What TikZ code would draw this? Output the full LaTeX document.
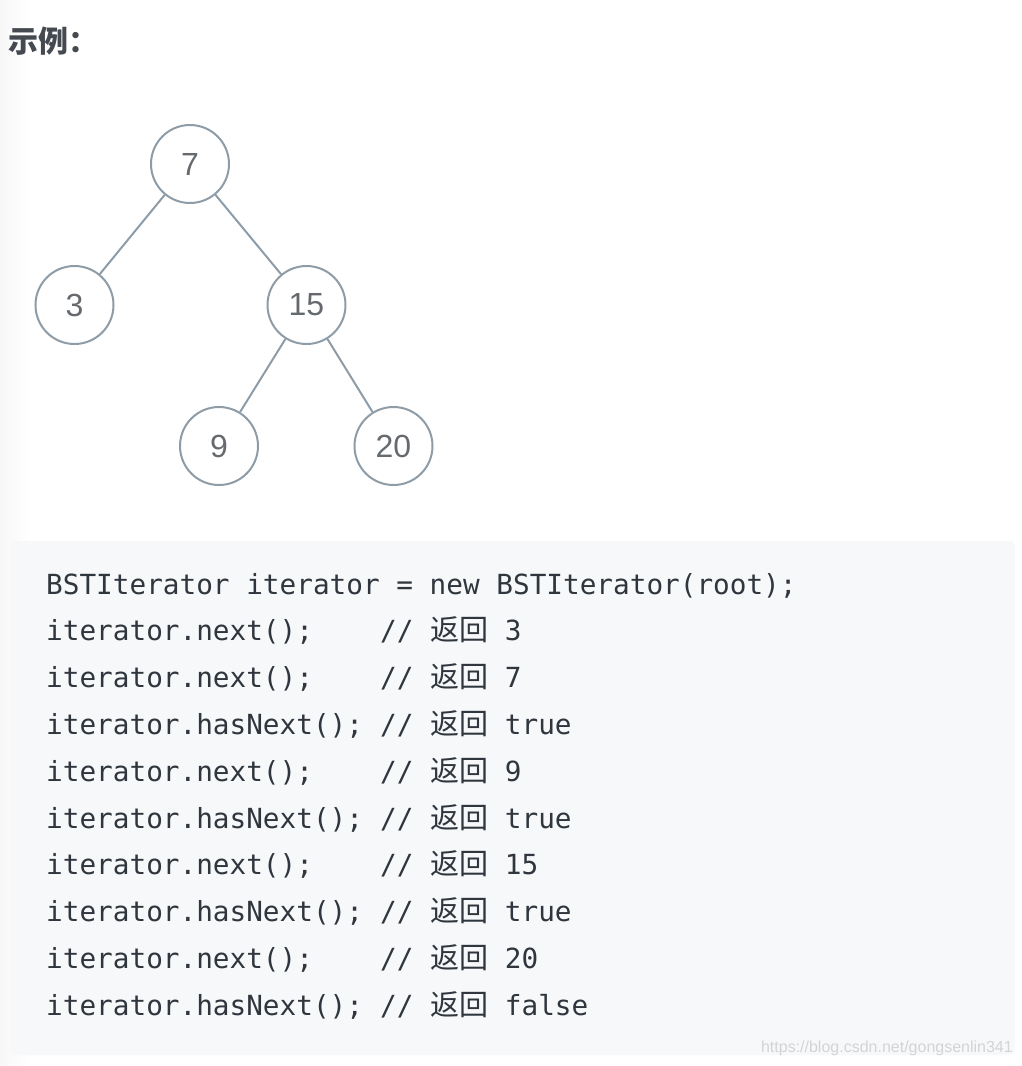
\documentclass[tikz,border=0pt]{standalone}
\usepackage{fontspec}
\usepackage{xcolor}
\setmonofont{DejaVu Sans Mono}
\newfontfamily\cjk{Noto Sans CJK SC}
\newfontfamily\numfont{Liberation Sans}
\definecolor{edgeC}{HTML}{8E9CA7}
\definecolor{numC}{HTML}{666A6E}
\definecolor{codeC}{HTML}{2F363D}
\definecolor{boxC}{HTML}{F7F8FA}
\definecolor{markC}{HTML}{D2D4D6}
\tikzset{
  vertex/.style={circle,draw=edgeC,line width=2pt,minimum size=78pt,inner sep=0pt,fill=white,
    text=numC,font=\numfont\fontsize{32}{32}\selectfont},
  branch/.style={draw=edgeC,line width=2pt},
  code/.style={anchor=base west,inner sep=0pt,text=codeC,font=\ttfamily\fontsize{27.7}{30}\selectfont}
}
\begin{document}
\begin{tikzpicture}[x=1pt,y=-1pt]
\useasboundingbox (0,0) rectangle (1022,1066);
\shade[left color=black!3,right color=white] (0,0) rectangle (30,1066);
\fill[boxC,rounded corners=5pt] (10,541) rectangle (1015,1055);
\node[anchor=west,inner sep=0pt,text=codeC!90,font=\cjk\bfseries\fontsize{30}{30}\selectfont] (title) at (8,41) {示例：};
\node[vertex] (n7) at (190,164) {7};
\node[vertex] (n3) at (74.5,305) {3};
\node[vertex] (n15) at (306.5,305) {15};
\node[vertex] (n9) at (219,446) {9};
\node[vertex] (n20) at (393.5,446) {20};
\draw[branch] (n7) -- (n3) (n7) -- (n15) (n15) -- (n9) (n15) -- (n20);
\node[code] (l1) at (46,594) {BSTIterator iterator = new BSTIterator(root);};
\foreach \i/\call/\ret in {2/next/3,3/next/7,4/hasNext/true,5/next/9,6/hasNext/true,7/next/15,8/hasNext/true,9/next/20,10/hasNext/false}{
  \node[code] (l\i) at (46,{594+(\i-1)*46.8}) {iterator.\call();};
  \node[code] (c\i) at (380,{594+(\i-1)*46.8}) {// {\cjk\fontsize{29}{29}\selectfont 返回} \ret};
}
\node[anchor=base east,inner sep=0pt,text=markC,font=\numfont\fontsize{16}{16}\selectfont] (mark) at (1013,1052) {https://blog.csdn.net/gongsenlin341};
\end{tikzpicture}
\end{document}
